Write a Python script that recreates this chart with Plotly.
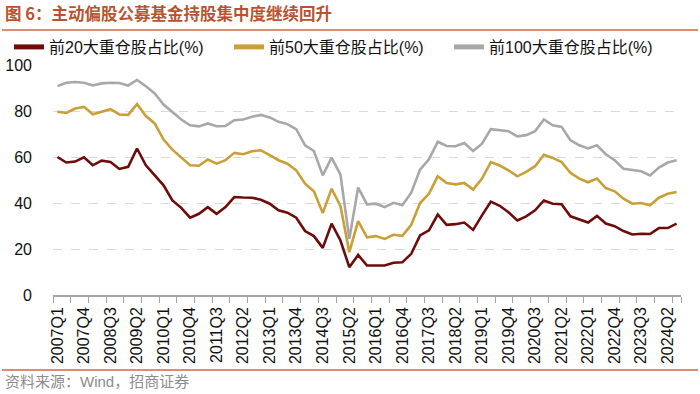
import plotly.graph_objects as go

quarters = [
    "2007Q1", "2007Q2", "2007Q3", "2007Q4", "2008Q1", "2008Q2", "2008Q3", "2008Q4",
    "2009Q1", "2009Q2", "2009Q3", "2009Q4", "2010Q1", "2010Q2", "2010Q3", "2010Q4",
    "2011Q1", "2011Q2", "2011Q3", "2011Q4", "2012Q1", "2012Q2", "2012Q3", "2012Q4",
    "2013Q1", "2013Q2", "2013Q3", "2013Q4", "2014Q1", "2014Q2", "2014Q3", "2014Q4",
    "2015Q1", "2015Q2", "2015Q3", "2015Q4", "2016Q1", "2016Q2", "2016Q3", "2016Q4",
    "2017Q1", "2017Q2", "2017Q3", "2017Q4", "2018Q1", "2018Q2", "2018Q3", "2018Q4",
    "2019Q1", "2019Q2", "2019Q3", "2019Q4", "2020Q1", "2020Q2", "2020Q3", "2020Q4",
    "2021Q1", "2021Q2", "2021Q3", "2021Q4", "2022Q1", "2022Q2", "2022Q3", "2022Q4",
    "2023Q1", "2023Q2", "2023Q3", "2023Q4", "2024Q1", "2024Q2", "2024Q3",
]

top20 = [
    60.0, 57.6, 58.0, 59.9, 56.4, 58.4, 57.8, 54.8, 55.7, 63.7,
    56.4, 52.0, 47.7, 41.1, 37.9, 33.6, 35.3, 38.2, 35.3, 38.2,
    42.6, 42.4, 42.3, 41.4, 39.7, 36.8, 35.8, 33.6, 27.8, 25.6,
    20.5, 31.0, 23.7, 12.1, 17.4, 12.8, 12.8, 12.8, 14.0, 14.2,
    17.9, 25.9, 28.1, 35.0, 30.5, 30.8, 31.5, 28.3, 34.6, 40.6,
    38.8, 36.0, 32.4, 34.2, 36.8, 41.1, 39.7, 39.5, 34.2, 32.8,
    31.5, 34.4, 31.1, 29.9, 27.8, 26.3, 26.6, 26.5, 29.1, 29.1,
    31.0,
]

top50 = [
    79.7, 79.2, 81.1, 81.8, 78.6, 79.7, 80.8, 78.5, 78.3, 83.0,
    77.8, 74.6, 67.6, 63.2, 60.0, 56.4, 56.2, 58.9, 57.1, 58.6,
    61.8, 61.2, 62.5, 62.9, 60.8, 58.6, 57.1, 54.2, 48.4, 45.1,
    35.6, 46.2, 38.7, 18.6, 32.1, 25.1, 25.6, 24.4, 26.2, 25.7,
    30.5, 40.0, 44.0, 51.6, 48.7, 48.1, 48.7, 45.8, 50.6, 57.8,
    56.3, 54.2, 51.6, 53.5, 56.0, 61.0, 59.6, 57.8, 53.1, 50.6,
    49.0, 50.6, 46.5, 45.1, 41.9, 39.7, 40.0, 39.0, 42.3, 44.0,
    44.8,
]

top100 = [
    90.8, 92.3, 92.6, 92.3, 91.1, 92.0, 92.3, 92.2, 91.1, 93.5,
    90.8, 87.6, 82.8, 79.4, 76.3, 73.8, 73.3, 74.6, 73.4, 73.5,
    76.0, 76.3, 77.5, 78.3, 77.2, 75.3, 74.3, 72.1, 65.1, 62.6,
    52.0, 59.7, 52.3, 24.4, 46.7, 39.4, 39.7, 38.2, 40.1, 39.0,
    44.5, 54.5, 59.0, 66.6, 64.8, 64.7, 66.1, 62.6, 65.8, 72.1,
    71.7, 71.2, 69.0, 69.5, 71.2, 76.3, 73.8, 73.1, 67.3, 65.1,
    63.7, 65.1, 61.2, 58.6, 54.9, 54.2, 53.8, 52.0, 55.4, 57.6,
    58.6,
]

series_names = ["前20大重仓股占比(%)", "前50大重仓股占比(%)", "前100大重仓股占比(%)"]
series_colors = ["#6E0B0B", "#C9A038", "#A8A8A8"]
y_ticks = [0, 20, 40, 60, 80, 100]
tick_labels = quarters[::3]

FONT = "Liberation Sans, Arial, Noto Sans CJK SC, sans-serif"
W, H = 700, 394
L, R, T, B = 53, 19, 65, 99
pw, ph = W - L - R, H - T - B

def px_x(px):
    return (px - L) / pw

def px_y(py):
    return (H - B - py) / ph

xpos = list(range(len(quarters)))
fig = go.Figure()
for name, vals, col in zip(series_names, [top20, top50, top100], series_colors):
    fig.add_trace(go.Scatter(
        x=xpos, y=vals, name=name, mode="lines",
        line=dict(color=col, width=2.6),
        hovertext=quarters,
    ))

n = len(quarters)
minor_vals = [-0.5 + 2 * k for k in range(n // 2 + 1)] + [n - 0.5]

fig.update_layout(
    width=W, height=H,
    margin=dict(l=L, r=R, t=T, b=B, pad=0, autoexpand=False),
    paper_bgcolor="white", plot_bgcolor="white",
    font=dict(family=FONT, size=14, color="#000000"),
    showlegend=True,
    legend=dict(
        orientation="h",
        x=px_x(9), y=px_y(47), xanchor="left", yanchor="middle",
        font=dict(family="Liberation Sans, Noto Sans CJK SC, sans-serif", size=16, color="#111111"),
        entrywidth=175, entrywidthmode="pixels",
        bgcolor="rgba(0,0,0,0)", itemsizing="constant", tracegroupgap=0,
    ),
    xaxis=dict(
        range=[-0.5, n - 0.5],
        tickmode="array",
        tickvals=xpos[::3],
        ticktext=tick_labels,
        tickangle=-90,
        ticks="", ticklabelstandoff=4,
        tickfont=dict(family=FONT, size=16, color="#111111"),
        showgrid=False, zeroline=False,
        showline=True, linecolor="#A6A6A6", linewidth=1.5,
        minor=dict(tickmode="array", tickvals=minor_vals, ticks="outside",
                   ticklen=6, tickcolor="#A6A6A6", tickwidth=1.2, showgrid=False),
        fixedrange=True,
    ),
    yaxis=dict(
        range=[0, 100],
        tickmode="array", tickvals=y_ticks,
        ticks="", ticklabelstandoff=20,
        tickfont=dict(family=FONT, size=16, color="#111111"),
        showgrid=True, gridcolor="#D9D9D9", griddash="dash", gridwidth=1,
        zeroline=False, showline=False,
        fixedrange=True,
    ),
    shapes=[
        dict(type="line", xref="paper", yref="paper", x0=px_x(2), x1=px_x(698),
             y0=px_y(30), y1=px_y(30), line=dict(color="#D4643F", width=1.5)),
        dict(type="line", xref="paper", yref="paper", x0=px_x(2), x1=px_x(698),
             y0=px_y(370), y1=px_y(370), line=dict(color="#D4643F", width=1.5)),
    ],
    annotations=[
        dict(text="<b>图 6：主动偏股公募基金持股集中度继续回升</b>", xref="paper", yref="paper",
             x=px_x(3), y=px_y(13), xanchor="left", yanchor="middle", showarrow=False,
             font=dict(family="Noto Sans CJK SC, sans-serif", size=16.5, color="#B9532F")),
        dict(text="资料来源：Wind，招商证券", xref="paper", yref="paper",
             x=px_x(3), y=px_y(381), xanchor="left", yanchor="middle", showarrow=False,
             font=dict(family="Liberation Sans, Noto Sans CJK SC, sans-serif", size=15, color="#8C8C8C")),
    ],
)

fig.write_html(
    "out.html",
    config={"displayModeBar": False},
    post_script="document.body.style.margin='0';document.body.style.padding='0';",
)
